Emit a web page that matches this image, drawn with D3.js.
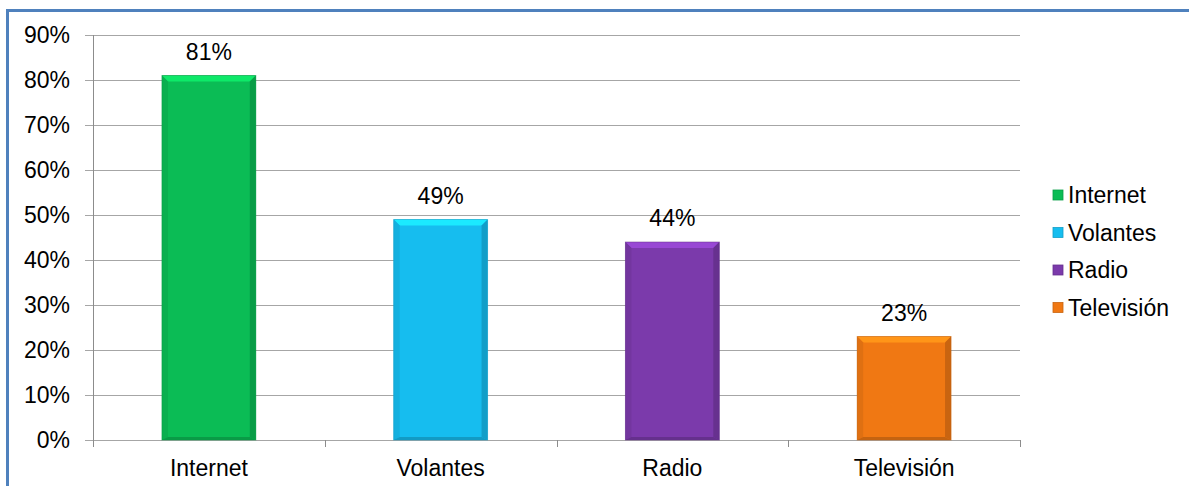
<!DOCTYPE html>
<html>
<head>
<meta charset="utf-8">
<script src="https://cdn.jsdelivr.net/npm/d3@7"></script>
<style>
  html, body { margin: 0; padding: 0; background: #fff; }
  svg { display: block; font-family: Arial, "Liberation Sans", sans-serif; }
</style>
</head>
<body>
<svg id="chart" width="1189" height="486"></svg>
<script>
// Media channels and the share of respondents reached by each
const categories = ["Internet", "Volantes", "Radio", "Televisión"];
const values = [0.81, 0.49, 0.44, 0.23];
const colors = ["#0bbc55", "#16bdef", "#7b3aab", "#f07813"];
const yTicks = [0, 0.1, 0.2, 0.3, 0.4, 0.5, 0.6, 0.7, 0.8, 0.9];

const svg = d3.select("#chart");
const W = 1189, H = 486;
const FS = 23;

// frame: blue border on the top and left edges
svg.append("path")
  .attr("d", `M${W + 5},10.5 H7.5 V${H + 5}`)
  .attr("fill", "none")
  .attr("stroke", "#4f81bd")
  .attr("stroke-width", 3);

const plot = { left: 93, right: 1020, top: 35, bottom: 440 };

const x = d3.scaleBand()
  .domain(categories)
  .range([plot.left, plot.right])
  .paddingInner(0.595)
  .paddingOuter(0.2975);

const y = d3.scaleLinear()
  .domain([0, 0.9])
  .range([plot.bottom, plot.top]);

const fmt = d3.format(".0%");

// horizontal gridlines
svg.append("g")
  .selectAll("line")
  .data(yTicks)
  .join("line")
  .attr("x1", plot.left - 8)
  .attr("x2", plot.right)
  .attr("y1", d => Math.round(y(d)) + 0.5)
  .attr("y2", d => Math.round(y(d)) + 0.5)
  .attr("stroke", "#a6a6a6")
  .attr("stroke-width", 1);

// y axis labels
svg.append("g")
  .selectAll("text")
  .data(yTicks)
  .join("text")
  .attr("x", 70)
  .attr("y", d => y(d))
  .attr("dy", "0.35em")
  .attr("text-anchor", "end")
  .attr("font-size", FS)
  .attr("fill", "#000")
  .text(fmt);

// y axis line
svg.append("line")
  .attr("x1", plot.left + 0.5).attr("x2", plot.left + 0.5)
  .attr("y1", plot.top).attr("y2", plot.bottom + 7)
  .attr("stroke", "#8c8c8c");

// category boundary ticks along the bottom
const step = x.step();
const boundaries = categories.map((c, i) => plot.left + step * (i + 1));
svg.append("g")
  .selectAll("line")
  .data(boundaries)
  .join("line")
  .attr("x1", d => Math.round(d) + 0.5)
  .attr("x2", d => Math.round(d) + 0.5)
  .attr("y1", plot.bottom)
  .attr("y2", plot.bottom + 7)
  .attr("stroke", "#8c8c8c");

// bars with a bevelled look
const bev = 6;
const bars = svg.append("g")
  .selectAll("g")
  .data(categories.map((c, i) => ({ c, v: values[i], col: colors[i] })))
  .join("g");

bars.each(function(d) {
  const g = d3.select(this);
  const x0 = x(d.c), x1 = x0 + x.bandwidth();
  const y0 = y(d.v), y1 = y(0);
  const base = d3.color(d.col);
  g.append("rect")
    .attr("x", x0).attr("y", y0)
    .attr("width", x1 - x0).attr("height", y1 - y0)
    .attr("fill", d.col);
  // top bevel (lighter)
  g.append("polygon")
    .attr("points", [[x0, y0], [x1, y0], [x1 - bev, y0 + bev], [x0 + bev, y0 + bev]].join(" "))
    .attr("fill", base.brighter(0.6));
  // left bevel
  g.append("polygon")
    .attr("points", [[x0, y0], [x0 + bev, y0 + bev], [x0 + bev, y1 - 3], [x0, y1]].join(" "))
    .attr("fill", base.darker(0.2));
  // right bevel
  g.append("polygon")
    .attr("points", [[x1, y0], [x1 - bev, y0 + bev], [x1 - bev, y1 - 3], [x1, y1]].join(" "))
    .attr("fill", base.darker(0.5));
  // bottom edge
  g.append("polygon")
    .attr("points", [[x0, y1], [x0 + bev, y1 - 3], [x1 - bev, y1 - 3], [x1, y1]].join(" "))
    .attr("fill", base.darker(0.55));
  // outline
  g.append("rect")
    .attr("x", x0).attr("y", y0)
    .attr("width", x1 - x0).attr("height", y1 - y0)
    .attr("fill", "none")
    .attr("stroke", base.darker(0.6))
    .attr("stroke-opacity", 0.5)
    .attr("stroke-width", 1);
  // value label
  g.append("text")
    .attr("x", (x0 + x1) / 2)
    .attr("y", y0 - 16)
    .attr("text-anchor", "middle")
    .attr("font-size", FS)
    .attr("fill", "#000")
    .text(fmt(d.v));
});

// category labels
svg.append("g")
  .selectAll("text")
  .data(categories)
  .join("text")
  .attr("x", d => x(d) + x.bandwidth() / 2)
  .attr("y", 476)
  .attr("text-anchor", "middle")
  .attr("font-size", FS)
  .attr("fill", "#000")
  .text(d => d);

// legend
const legend = svg.append("g")
  .selectAll("g")
  .data(categories.map((c, i) => ({ c, col: colors[i] })))
  .join("g")
  .attr("transform", (d, i) => `translate(1053, ${195 + i * 37.5})`);

legend.append("rect")
  .attr("x", 0).attr("y", -5)
  .attr("width", 10).attr("height", 10)
  .attr("fill", d => d.col)
  .attr("stroke", d => d3.color(d.col).darker(0.5))
  .attr("stroke-width", 0.8);

legend.append("text")
  .attr("x", 15)
  .attr("y", 0)
  .attr("dy", "0.35em")
  .attr("font-size", FS)
  .attr("fill", "#000")
  .text(d => d.c);
</script>
</body>
</html>
